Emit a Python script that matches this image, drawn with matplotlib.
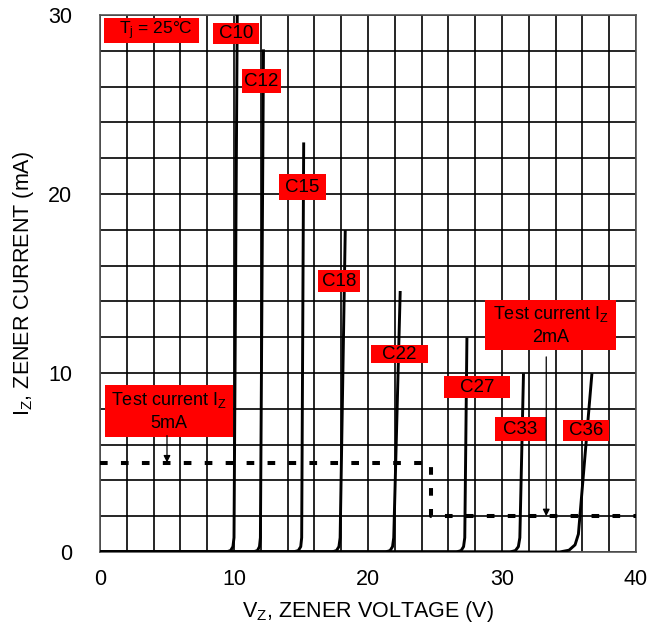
import matplotlib
matplotlib.use("Agg")
import matplotlib.pyplot as plt
from matplotlib.patches import Rectangle
import numpy as np

plt.rcParams['font.family'] = ['Liberation Sans', 'DejaVu Sans']
plt.rcParams['mathtext.default'] = 'regular'

# zener curves (V, mA)
c10_v = [0, 9.4, 9.75, 9.92, 10.0, 10.25]
c10_i = [0, 0, 0.08, 0.3, 0.8, 31.0]
c12_v = [0, 11.4, 11.75, 11.9, 11.97, 12.2]
c12_i = [0, 0, 0.08, 0.3, 0.8, 28.0]
c15_v = [0, 14.4, 14.8, 14.98, 15.05, 15.2]
c15_i = [0, 0, 0.08, 0.3, 0.8, 22.8]
c18_v = [0, 17.3, 17.65, 17.83, 17.92, 18.3]
c18_i = [0, 0, 0.08, 0.3, 0.8, 17.9]
c22_v = [0, 21.3, 21.65, 21.83, 21.92, 22.4]
c22_i = [0, 0, 0.08, 0.3, 0.8, 14.5]
c27_v = [0, 26.6, 26.95, 27.13, 27.22, 27.38]
c27_i = [0, 0, 0.08, 0.3, 0.8, 11.9]
c33_v = [0, 30.6, 31.0, 31.22, 31.33, 31.6]
c33_i = [0, 0, 0.08, 0.3, 0.8, 9.9]
c36_v = [0, 34.3, 35.0, 35.45, 35.7, 36.7]
c36_i = [0, 0, 0.1, 0.4, 1.0, 9.9]

curves = [(c10_v, c10_i), (c12_v, c12_i), (c15_v, c15_i), (c18_v, c18_i),
          (c22_v, c22_i), (c27_v, c27_i), (c33_v, c33_i), (c36_v, c36_i)]

# test current line
test_v = [0, 24.7, 24.7, 40]
test_i = [5, 5, 2, 2]

x_ticks = [0, 10, 20, 30, 40]
y_ticks = [0, 10, 20, 30]

fig = plt.figure(figsize=(6.51, 6.31), dpi=100)
ax = fig.add_axes([0.1536, 0.1252, 0.8234, 0.851])

for v, i in curves:
    ax.plot(v, i, color='black', lw=2.1, solid_joinstyle='round', zorder=3)

ax.plot(test_v, test_i, color='black', lw=2.9, linestyle=(0, (1.9, 3.3)), zorder=3)

ax.set_xlim(0, 40)
ax.set_ylim(0, 30)
ax.set_xticks(np.arange(0, 41, 2), minor=True)
ax.set_yticks(np.arange(0, 31, 2), minor=True)
ax.set_xticks(x_ticks)
ax.set_yticks(y_ticks)
ax.grid(which='both', color='black', lw=1.2)
ax.set_axisbelow(True)
ax.tick_params(which='both', length=0, labelsize=15.5)
ax.tick_params(axis='x', pad=12)
ax.tick_params(axis='y', pad=20)
for s in ax.spines.values():
    s.set_color('#555555')
    s.set_linewidth(1.2)

ax.set_xlabel('V$_Z$, ZENER VOLTAGE (V)', fontsize=15.5, labelpad=7)
ax.set_ylabel('I$_Z$, ZENER CURRENT (mA)', fontsize=15.5, labelpad=9)


def px(x, y):
    # pixel position in the picture -> data coords
    return (x - 100) / 13.4, (552 - y) / 17.9


def label_box(x0, y0, x1, y1, text, size=13.5, dx=0):
    a0, b1 = px(x0, y0)
    a1, b0 = px(x1, y1)
    ax.add_patch(Rectangle((a0, b0), a1 - a0, b1 - b0, facecolor='#ff0000',
                           edgecolor='none', zorder=4, clip_on=False))
    ax.text((a0 + a1) / 2 + dx / 13.4, (b0 + b1) / 2, text, ha='center',
            va='center', fontsize=size, zorder=5, linespacing=1.45)


label_box(104, 18, 199, 43, 'T$_j$ = 25°C', 12.5, dx=4)
label_box(213, 23, 259, 44, 'C10')
label_box(242, 69, 281, 93, 'C12')
label_box(279, 174, 326, 200, 'C15')
label_box(318, 270, 360, 292, 'C18')
label_box(371, 345, 428, 363, 'C22')
label_box(444, 376, 510, 398, 'C27')
label_box(495, 417, 546, 441, 'C33')
label_box(563, 420, 609, 441, 'C36')
label_box(105, 385, 233, 437, 'Test current I$_Z$\n5mA', 13)
label_box(485, 300, 616, 350, 'Test current I$_Z$\n2mA', 13)

# arrows to the test current
ax.annotate('', xy=(5.0, 5.0), xytext=(5.0, 6.5),
            arrowprops=dict(arrowstyle='-|>', color='black', lw=0.9,
                            mutation_scale=10, shrinkA=0, shrinkB=0), zorder=5)
ax.annotate('', xy=(33.3, 2.0), xytext=(33.3, 10.9),
            arrowprops=dict(arrowstyle='-|>', color='black', lw=0.9,
                            mutation_scale=10, shrinkA=0, shrinkB=0), zorder=5)

fig.savefig('out.png', dpi=100)
